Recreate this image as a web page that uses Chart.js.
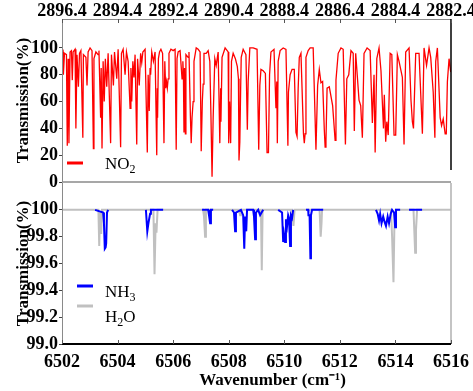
<!DOCTYPE html>
<html>
<head>
<meta charset="utf-8">
<script src="https://cdn.jsdelivr.net/npm/chart.js@4.4.0/dist/chart.umd.min.js"></script>
<style>
  body { margin: 0; background: #fff; }
  #wrap { position: relative; width: 473px; height: 391px; }
  canvas { position: absolute; left: 0; }
  #topChart { top: 0; }
  #bottomChart { top: 183px; }
</style>
</head>
<body>
<div id="wrap">
  <canvas id="topChart" width="473" height="200"></canvas>
  <canvas id="bottomChart" width="473" height="208"></canvas>
</div>
<script>
/************************************************************
 * DATA
 ************************************************************/
// upper panel: NO2 transmission vs wavenumber (cm-1), top axis
const no2Wn = [
  2896.40, 2896.36, 2896.35, 2896.31, 2896.24, 2896.21, 2896.18, 2896.15, 2896.11, 2896.06,
  2896.03, 2896.00, 2895.93, 2895.90, 2895.86, 2895.81, 2895.77, 2895.72, 2895.65, 2895.63,
  2895.54, 2895.50, 2895.46, 2895.39, 2895.32, 2895.27, 2895.25, 2895.18, 2895.10, 2895.07,
  2895.01, 2894.99, 2894.96, 2894.92, 2894.88, 2894.84, 2894.79, 2894.74, 2894.65, 2894.62,
  2894.55, 2894.51, 2894.43, 2894.38, 2894.29, 2894.26, 2894.20, 2894.13, 2894.08, 2894.02,
  2893.95, 2893.92, 2893.89, 2893.85, 2893.81, 2893.77, 2893.71, 2893.68, 2893.62, 2893.57,
  2893.53, 2893.49, 2893.41, 2893.33, 2893.30, 2893.26, 2893.23, 2893.21, 2893.17, 2893.11,
  2893.05, 2892.99, 2892.97, 2892.96, 2892.93, 2892.89, 2892.84, 2892.78, 2892.73, 2892.70,
  2892.67, 2892.64, 2892.61, 2892.58, 2892.55, 2892.48, 2892.40, 2892.33, 2892.29, 2892.26,
  2892.22, 2892.15, 2892.08, 2892.05, 2892.03, 2892.01, 2891.99, 2891.96, 2891.94, 2891.86,
  2891.83, 2891.78, 2891.75, 2891.72, 2891.68, 2891.65, 2891.57, 2891.50, 2891.43, 2891.39,
  2891.35, 2891.32, 2891.29, 2891.21, 2891.14, 2891.08, 2891.04, 2891.00, 2890.96, 2890.90,
  2890.85, 2890.78, 2890.72, 2890.69, 2890.68, 2890.64, 2890.53, 2890.42, 2890.40, 2890.37,
  2890.33, 2890.30, 2890.24, 2890.16, 2890.09, 2890.05, 2890.03, 2890.00, 2889.97, 2889.95,
  2889.88, 2889.78, 2889.73, 2889.70, 2889.64, 2889.52, 2889.38, 2889.32, 2889.28, 2889.24,
  2889.16, 2889.08, 2889.02, 2888.97, 2888.93, 2888.88, 2888.77, 2888.70, 2888.67, 2888.65,
  2888.62, 2888.55, 2888.44, 2888.34, 2888.27, 2888.25, 2888.19, 2888.12, 2888.04, 2887.98,
  2887.94, 2887.90, 2887.86, 2887.80, 2887.71, 2887.68, 2887.65, 2887.62, 2887.54, 2887.47,
  2887.36, 2887.26, 2887.20, 2887.14, 2887.08, 2887.02, 2886.96, 2886.93, 2886.90, 2886.86,
  2886.78, 2886.66, 2886.57, 2886.54, 2886.46, 2886.36, 2886.28, 2886.20, 2886.15, 2886.08,
  2886.00, 2885.92, 2885.88, 2885.83, 2885.71, 2885.65, 2885.59, 2885.53, 2885.42, 2885.31,
  2885.23, 2885.17, 2885.13, 2885.07, 2884.99, 2884.92, 2884.83, 2884.80, 2884.75, 2884.71,
  2884.66, 2884.63, 2884.59, 2884.53, 2884.45, 2884.39, 2884.33, 2884.27, 2884.15, 2884.09,
  2884.03, 2883.91, 2883.84, 2883.79, 2883.75, 2883.67, 2883.55, 2883.43, 2883.37, 2883.28,
  2883.19, 2883.13, 2883.04, 2882.98, 2882.95, 2882.89, 2882.79, 2882.74, 2882.68, 2882.61,
  2882.57, 2882.53, 2882.47, 2882.41
];
const no2T = [
  95, 97, 80, 96, 95, 27, 92, 29, 97, 98,
  76, 97, 99, 40, 95, 71, 96, 98, 33, 95,
  93, 72, 97, 100, 98, 25, 92, 97, 95, 98,
  48, 85, 25, 90, 60, 92, 71, 96, 29, 95,
  72, 97, 77, 99, 26, 96, 99, 80, 97, 90,
  55, 85, 60, 90, 78, 95, 28, 92, 72, 96,
  89, 97, 99, 22, 80, 53, 85, 80, 97, 90,
  97, 20, 70, 48, 92, 97, 99, 96, 29, 90,
  70, 75, 70, 77, 96, 99, 98, 99, 24, 92,
  97, 98, 77, 90, 80, 37, 85, 36, 95, 93,
  97, 50, 29, 48, 60, 90, 100, 99, 97, 23,
  60, 73, 96, 96, 98, 90, 50, 4, 48, 92,
  87, 97, 29, 70, 45, 93, 100, 97, 29, 60,
  29, 90, 96, 92, 86, 77, 16, 30, 70, 93,
  99, 95, 39, 75, 100, 100, 99, 24, 72, 84,
  83, 81, 22, 22, 80, 97, 99, 55, 75, 29,
  90, 98, 100, 99, 27, 67, 80, 84, 84, 37,
  34, 70, 93, 96, 36, 29, 36, 93, 98, 100,
  100, 24, 72, 84, 74, 75, 39, 26, 31, 70,
  71, 57, 31, 76, 96, 100, 99, 28, 77, 80,
  98, 96, 38, 96, 61, 57, 33, 96, 100, 98,
  44, 80, 22, 92, 100, 83, 40, 65, 30, 45,
  35, 61, 96, 95, 35, 35, 95, 90, 78, 28,
  97, 100, 61, 45, 40, 96, 96, 36, 100, 87,
  100, 93, 67, 33, 90, 100, 48, 42, 47, 36,
  36, 75, 92, 82
];

// lower panel: wavenumber (cm-1), bottom axis
const h2oWn = [
  6502.00, 6503.31, 6503.34, 6503.37, 6503.41, 6503.44,
  6505.29, 6505.33, 6505.37, 6505.40, 6505.44,
  6507.08, 6507.11, 6507.15, 6507.18,
  6508.37, 6508.41, 6508.44,
  6509.16, 6509.19, 6509.22,
  6510.28, 6510.33, 6510.37,
  6511.27, 6511.31, 6511.34, 6511.36,
  6513.84, 6513.88, 6513.93, 6513.96, 6514.01,
  6514.65, 6514.71, 6514.74, 6514.78,
  6516.00
];
const h2oT = [
  100, 100, 99.73, 99.98, 99.82, 100,
  100, 99.52, 99.90, 99.83, 100,
  100, 99.95, 99.80, 100,
  100, 99.96, 100,
  100, 99.55, 100,
  100, 99.88, 100,
  100, 99.80, 99.90, 100,
  100, 99.80, 99.46, 99.85, 100,
  100, 99.68, 99.85, 100,
  100
];

// NH3 only shows near its lines; null breaks the trace
const nh3Wn = [
  6503.19, 6503.48, 6503.51, 6503.54, 6503.57, 6503.59, 6503.62, 6503.66, 6504.00,
  6505.02, 6505.07, 6505.11, 6505.17, 6505.20, 6505.64, 6506.00,
  6507.04, 6507.26, 6507.29, 6507.33, 6507.36, 6507.44, 6507.80,
  6508.12, 6508.19, 6508.23, 6508.26, 6508.44, 6508.52, 6508.56, 6508.59, 6508.63, 6508.66,
  6508.88, 6508.91, 6508.95, 6508.98, 6509.06, 6509.13, 6509.24, 6509.50,
  6509.78, 6509.92, 6509.96, 6509.99, 6510.03, 6510.06, 6510.10, 6510.14, 6510.17, 6510.21,
  6510.24, 6510.28, 6510.32, 6510.50,
  6510.78, 6510.86, 6510.87, 6510.91, 6510.94, 6510.96, 6511.00, 6511.40, 6512.00,
  6513.30, 6513.36, 6513.41, 6513.45, 6513.50, 6513.56, 6513.61, 6513.66, 6513.72, 6513.77,
  6513.83, 6513.88, 6513.95, 6513.99, 6514.02, 6514.17, 6514.30,
  6514.49, 6514.96
];
const nh3T = [
  100, 99.98, 99.90, 99.71, 99.72, 99.75, 99.98, 100, null,
  100, 99.84, 99.90, 99.97, 100, 100, null,
  100, 100, 99.96, 99.90, 100, 100, null,
  100, 99.98, 99.84, 99.98, 100, 99.96, 99.71, 99.95, 99.84, 100,
  100, 99.95, 99.78, 99.98, 100, 99.96, 100, null,
  100, 99.98, 99.76, 99.82, 99.76, 99.93, 99.88, 99.96, 99.94, 99.73,
  99.96, 99.94, 100, null,
  100, 100, 99.96, 99.96, 99.64, 99.96, 100, 100, null,
  100, 99.97, 99.92, 99.97, 99.90, 99.95, 99.91, 99.88, 99.95, 99.90,
  99.97, 100, 99.98, 99.87, 100, 100, null,
  100, 100
];

const topTicks = [2896.4, 2894.4, 2892.4, 2890.4, 2888.4, 2886.4, 2884.4, 2882.4];
const bottomTicks = [6502, 6504, 6506, 6508, 6510, 6512, 6514, 6516];
const no2Ticks = [0, 20, 40, 60, 80, 100];
const lowTicks = [99.0, 99.2, 99.4, 99.6, 99.8, 100];

/************************************************************
 * HELPERS
 ************************************************************/
const SERIF = "'Liberation Serif', 'Times New Roman', serif";
const tickFont = { family: SERIF, size: 18, weight: "bold" };
const titleFont = { family: SERIF, size: 17, weight: "bold" };

const toPoints = (xs, ys) => xs.map((x, i) => ({ x, y: ys[i] }));

function seg(ctx, x1, y1, x2, y2, color, w) {
  ctx.strokeStyle = color;
  ctx.lineWidth = w;
  ctx.beginPath();
  ctx.moveTo(x1, y1);
  ctx.lineTo(x2, y2);
  ctx.stroke();
}

// short tick marks pointing into the plot
function innerTicks(ctx, scale, y, dir) {
  scale.ticks.forEach((t) => {
    const px = Math.round(scale.getPixelForValue(t.value)) + 0.5;
    seg(ctx, px, y, px, y + dir * 4, "#555", 1);
  });
}

// legend text with a subscript
function legendEntry(ctx, x1, x2, ly, color, parts, tx, ty) {
  seg(ctx, x1, ly, x2, ly, color, 3);
  ctx.fillStyle = "#000";
  ctx.textBaseline = "alphabetic";
  ctx.textAlign = "left";
  let x = tx;
  parts.forEach(([txt, sub]) => {
    ctx.font = sub ? `12px ${SERIF}` : `17px ${SERIF}`;
    ctx.fillText(txt, x, sub ? ty + 4 : ty);
    x += ctx.measureText(txt).width;
  });
}

function yAxis(min, max, ticks, fmt) {
  return {
    type: "linear",
    min, max,
    afterBuildTicks: (s) => { s.ticks = ticks.map((v) => ({ value: v })); },
    afterFit: (s) => { s.width = 62; s.paddingTop = 0; s.paddingBottom = 0; },
    border: { display: false },
    grid: { drawOnChartArea: false, tickLength: 3, color: "#444" },
    ticks: { font: tickFont, color: "#000", padding: 1, callback: fmt },
    title: { display: true, text: "Transmission(%)", font: titleFont, color: "#000", padding: { top: 13, bottom: 0 } },
  };
}

/************************************************************
 * UPPER PANEL (NO2)
 ************************************************************/
const topDecor = {
  id: "topDecor",
  afterDatasetsDraw(chart) {
    const { ctx, chartArea: a, scales } = chart;
    ctx.save();
    seg(ctx, a.left, a.top + 0.5, a.right, a.top + 0.5, "#8a8a8a", 1);
    seg(ctx, a.left + 0.5, a.top, a.left + 0.5, a.bottom, "#8a8a8a", 1);
    seg(ctx, a.left, a.bottom, a.right, a.bottom, "#8a8a8a", 1.5);
    seg(ctx, a.right, a.top, a.right, a.bottom - 12, "#000", 1.5);
    innerTicks(ctx, scales.x, a.top, 1);
    legendEntry(ctx, 67, 83, 163, "#ff0000", [["NO", 0], ["2", 1]], 105, 169);
    ctx.restore();
  },
};

new Chart(document.getElementById("topChart"), {
  type: "line",
  data: {
    datasets: [
      {
        label: "NO2",
        data: toPoints(no2Wn, no2T),
        borderColor: "#ff0000",
        borderWidth: 1.3,
        pointRadius: 0,
        tension: 0,
      },
    ],
  },
  options: {
    responsive: false,
    animation: false,
    layout: { padding: { left: 0, right: 22, top: 0, bottom: 18 } },
    plugins: { legend: { display: false }, tooltip: { enabled: false } },
    scales: {
      x: {
        type: "linear",
        position: "top",
        min: 2882.4,
        max: 2896.4,
        reverse: true,
        afterBuildTicks: (s) => { s.ticks = topTicks.map((v) => ({ value: v })); },
        afterFit: (s) => { s.height = 19; s.paddingLeft = 0; s.paddingRight = 0; },
        border: { display: false },
        grid: { display: false, drawTicks: false },
        ticks: { font: tickFont, color: "#000", padding: -3, maxRotation: 0, callback: (v) => v.toFixed(1) },
      },
      y: yAxis(0, 121.6, no2Ticks, (v) => v),
    },
  },
  plugins: [topDecor],
});

/************************************************************
 * LOWER PANEL (NH3, H2O)
 ************************************************************/
const bottomDecor = {
  id: "bottomDecor",
  afterDatasetsDraw(chart) {
    const { ctx, chartArea: a, scales } = chart;
    ctx.save();
    seg(ctx, a.left + 0.5, a.top, a.left + 0.5, a.bottom, "#8a8a8a", 1);
    seg(ctx, a.right, a.top, a.right, a.bottom, "#b0b0b0", 1.5);
    seg(ctx, a.left, a.bottom, a.right, a.bottom, "#000", 2);
    innerTicks(ctx, scales.x, a.bottom, -1);
    legendEntry(ctx, 77, 93, 103, "#0000ff", [["NH", 0], ["3", 1]], 105, 114);
    legendEntry(ctx, 77, 93, 123, "#c0c0c0", [["H", 0], ["2", 1], ["O", 0]], 105, 139);
    // axis title sits a little right of centre in the original
    ctx.fillStyle = "#000";
    ctx.font = `bold 17px ${SERIF}`;
    ctx.textAlign = "center";
    ctx.textBaseline = "middle";
    ctx.fillText("Wavenumber (cm\u207B\u00B9)", (a.left + a.right) / 2 + 16, 198);
    ctx.restore();
  },
};

new Chart(document.getElementById("bottomChart"), {
  type: "line",
  data: {
    datasets: [
      {
        label: "NH3",
        data: toPoints(nh3Wn, nh3T),
        borderColor: "#0000ff",
        borderWidth: 2,
        pointRadius: 0,
        tension: 0,
        spanGaps: false,
      },
      {
        label: "H2O",
        data: toPoints(h2oWn, h2oT),
        borderColor: "#c0c0c0",
        borderWidth: 2,
        pointRadius: 0,
        tension: 0,
      },
    ],
  },
  options: {
    responsive: false,
    animation: false,
    layout: { padding: { left: 0, right: 22, top: 0, bottom: 0 } },
    plugins: { legend: { display: false }, tooltip: { enabled: false } },
    scales: {
      x: {
        type: "linear",
        position: "bottom",
        min: 6502,
        max: 6516,
        afterBuildTicks: (s) => { s.ticks = bottomTicks.map((v) => ({ value: v })); },
        afterFit: (s) => { s.height = 47; s.paddingLeft = 0; s.paddingRight = 0; },
        border: { display: false },
        grid: { display: false, drawTicks: false },
        ticks: { font: tickFont, color: "#000", padding: 8, maxRotation: 0, callback: (v) => String(v) },
      },
      y: yAxis(99, 100.2, lowTicks, (v) => (v === 100 ? "100" : v.toFixed(1))),
    },
  },
  plugins: [bottomDecor],
});
</script>
</body>
</html>
